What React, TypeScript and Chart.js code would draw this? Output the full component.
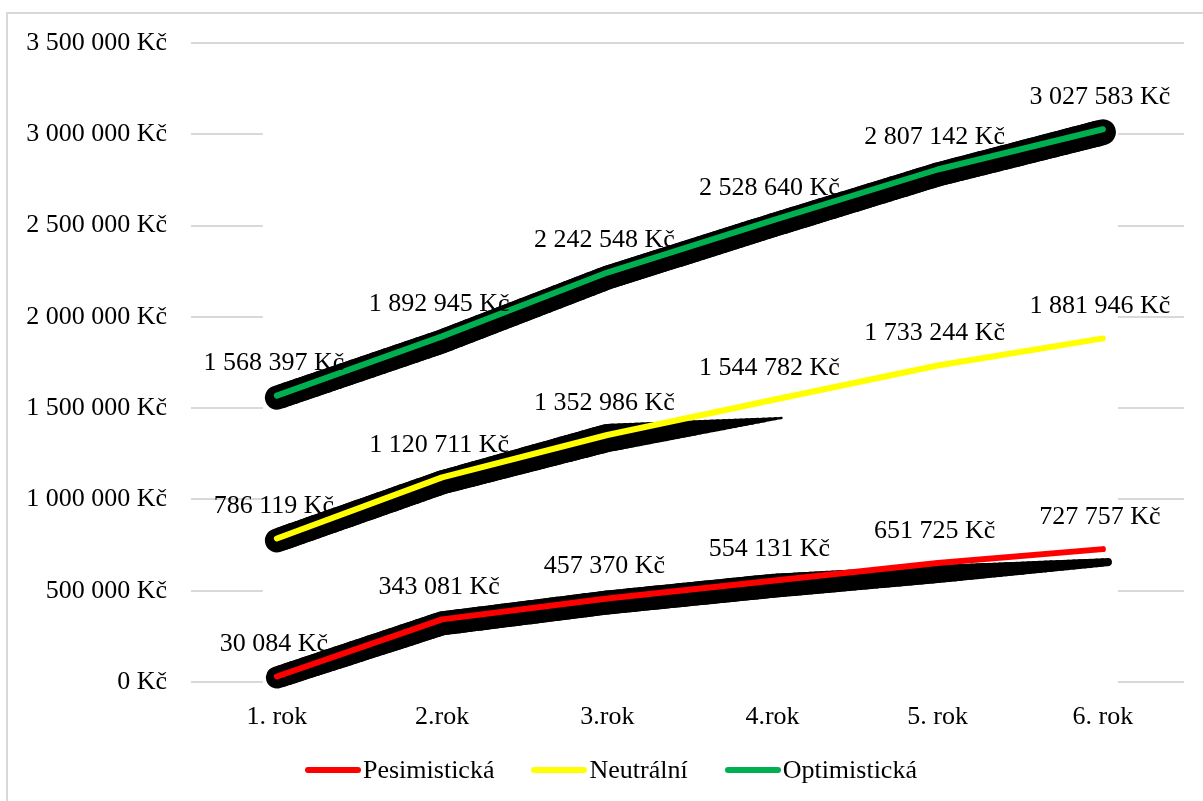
import React, { useEffect, useRef } from "react";
import { Chart, registerables } from "chart.js";

Chart.register(...registerables);

const categories = ["1. rok", "2.rok", "3.rok", "4.rok", "5. rok", "6. rok"];
const pesimisticka = [30084, 343081, 457370, 554131, 651725, 727757];
const neutralni = [786119, 1120711, 1352986, 1544782, 1733244, 1881946];
const optimisticka = [1568397, 1892945, 2242548, 2528640, 2807142, 3027583];
const seriesNames = ["Pesimistická", "Neutrální", "Optimistická"];
const seriesColors = ["#FF0000", "#FFFF00", "#00B050"];
const yMin = 0;
const yMax = 3500000;
const yStep = 500000;

const FONT = "'Liberation Serif', 'Times New Roman', serif";

const fmt = (v: number) =>
  String(Math.round(v)).replace(/\B(?=(\d{3})+(?!\d))/g, " ") + " Kč";

// decorative black shadow under each line: per point [dx, dy, width]
const shadowStyles: number[][][] = [
  [[0, 1, 22], [0, 4, 24], [0, 4, 24], [0, 5, 24], [0, 11, 18], [5, 13, 8]],
  [[0, 2, 24], [0, 5, 24], [0, 3, 28], [9, 18, 2]],
  [[0, 2, 24], [0, 5, 24], [0, 5, 24], [0, 5, 24], [0, 5, 24], [0, 3, 26]],
];

export default function App() {
  const ref = useRef<HTMLCanvasElement>(null);

  useEffect(() => {
    if (!ref.current) return;

    // slightly narrower outer margins of the category axis (as in the original)
    const xRangePlugin = {
      id: "xRange",
      afterLayout(chart: any) {
        const s = chart.scales.x;
        s._startValue = -0.52;
        s._valueRange = 6.011;
      },
    };

    const coverPlugin = {
      id: "cover",
      beforeDatasetsDraw(chart: any) {
        const ctx = chart.ctx;
        const meta = chart.getDatasetMeta(0);
        const pts = meta.data;
        const x0 = pts[0].x - 14;
        const x1 = pts[pts.length - 1].x + 15;
        const ca = chart.chartArea;
        ctx.save();
        ctx.fillStyle = "#ffffff";
        ctx.fillRect(x0, ca.top + 8, x1 - x0, ca.bottom - ca.top + 2);
        ctx.restore();
      },
    };

    const shadowPlugin = {
      id: "shadow",
      beforeDatasetsDraw(chart: any) {
        const ctx = chart.ctx;
        ctx.save();
        ctx.strokeStyle = "#000000";
        ctx.lineCap = "round";
        ctx.lineJoin = "round";
        shadowStyles.forEach((st, di) => {
          const pts = chart.getDatasetMeta(di).data;
          const c = st.map((s, i) => ({ x: pts[i].x + s[0], y: pts[i].y + s[1], w: s[2] }));
          for (let i = 0; i < c.length - 1; i++) {
            const a = c[i];
            const b = c[i + 1];
            const N = 30;
            for (let k = 0; k < N; k++) {
              const t0 = k / N;
              const t1 = (k + 1) / N;
              ctx.lineWidth = a.w + (b.w - a.w) * ((t0 + t1) / 2);
              ctx.beginPath();
              ctx.moveTo(a.x + (b.x - a.x) * t0, a.y + (b.y - a.y) * t0);
              ctx.lineTo(a.x + (b.x - a.x) * t1, a.y + (b.y - a.y) * t1);
              ctx.stroke();
            }
          }
        });
        ctx.restore();
      },
    };

    const labelPlugin = {
      id: "valueLabels",
      afterDatasetsDraw(chart: any) {
        const ctx = chart.ctx;
        ctx.save();
        ctx.font = `26px ${FONT}`;
        ctx.fillStyle = "#000000";
        ctx.textAlign = "center";
        ctx.textBaseline = "middle";
        chart.data.datasets.forEach((ds: any, di: number) => {
          const pts = chart.getDatasetMeta(di).data;
          ds.data.forEach((v: number, i: number) => {
            ctx.fillText(fmt(v), pts[i].x - 3, pts[i].y - 32);
          });
        });
        ctx.restore();
      },
    };

    const seriesData = [pesimisticka, neutralni, optimisticka];

    const chart = new Chart(ref.current, {
      type: "line",
      data: {
        labels: categories,
        datasets: seriesData.map((d, i) => ({
          label: seriesNames[i],
          data: d,
          borderColor: seriesColors[i],
          backgroundColor: seriesColors[i],
          borderWidth: 6,
          borderCapStyle: "round",
          borderJoinStyle: "round",
          pointRadius: 0,
          pointHoverRadius: 0,
          tension: 0,
          fill: false,
        })),
      },
      options: {
        animation: false,
        responsive: false,
        maintainAspectRatio: false,
        devicePixelRatio: 1,
        layout: { padding: { left: 0, top: 43, right: 19, bottom: 59 } },
        plugins: {
          legend: { display: false },
          tooltip: { enabled: false },
        },
        scales: {
          x: {
            offset: true,
            grid: { display: false, drawTicks: false },
            border: { display: false },
            ticks: {
              color: "#000000",
              font: { family: FONT, size: 26 },
              padding: 20,
              maxRotation: 0,
              autoSkip: false,
            },
            afterFit: (scale: any) => {
              scale.height = 60;
            },
          },
          y: {
            min: yMin,
            max: yMax,
            grid: { color: "#d9d9d9", lineWidth: 2, drawTicks: false },
            border: { display: false },
            ticks: {
              stepSize: yStep,
              color: "#000000",
              font: { family: FONT, size: 26 },
              padding: 24,
              callback: (v: any) => fmt(Number(v)),
            },
            afterFit: (scale: any) => {
              scale.width = 191;
            },
          },
        },
      },
      plugins: [xRangePlugin, coverPlugin, shadowPlugin, labelPlugin],
    });

    return () => chart.destroy();
  }, []);

  const legendItems = seriesNames.map((n, i) => (
    <div key={n} style={{ display: "flex", alignItems: "center", marginRight: i < 2 ? 37 : 0 }}>
      <div
        style={{
          width: 56,
          height: 6,
          borderRadius: 3,
          background: seriesColors[i],
          marginRight: 2,
        }}
      />
      <span style={{ fontFamily: FONT, fontSize: 26, color: "#000", lineHeight: "30px" }}>{n}</span>
    </div>
  ));

  return (
    <div style={{ position: "absolute", left: 0, top: 0, width: 1203, height: 801, overflow: "hidden", background: "#fff" }}>
      <canvas
        ref={ref}
        width={1203}
        height={801}
        style={{ position: "absolute", left: 0, top: 0, width: 1203, height: 801 }}
      />
      <div
        style={{
          position: "absolute",
          left: 6,
          top: 12,
          width: 1220,
          height: 820,
          border: "2px solid #d9d9d9",
          boxSizing: "border-box",
          pointerEvents: "none",
        }}
      />
      <div
        style={{
          position: "absolute",
          left: 305,
          top: 755,
          display: "flex",
          alignItems: "center",
        }}
      >
        {legendItems}
      </div>
    </div>
  );
}
